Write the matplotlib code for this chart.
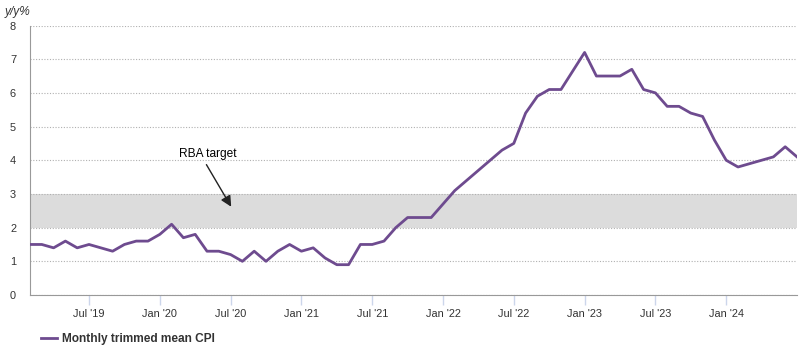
import matplotlib.pyplot as plt

plt.rcParams["font.family"] = ["Liberation Sans", "DejaVu Sans"]

# ====================================
# monthly trimmed mean CPI, Feb 2019 .. Jul 2024 (y/y %)

cpi = [1.5, 1.5, 1.4, 1.6, 1.4, 1.5, 1.4, 1.3, 1.5, 1.6, 1.6,
       1.8, 2.1, 1.7, 1.8, 1.3, 1.3, 1.2, 1.0, 1.3, 1.0, 1.3, 1.5,
       1.3, 1.4, 1.1, 0.9, 0.9, 1.5, 1.5, 1.6, 2.0, 2.3, 2.3, 2.3,
       2.7, 3.1, 3.4, 3.7, 4.0, 4.3, 4.5, 5.4, 5.9, 6.1, 6.1, 6.65,
       7.2, 6.5, 6.5, 6.5, 6.7, 6.1, 6.0, 5.6, 5.6, 5.4, 5.3,
       4.6, 4.0, 3.8, 3.9, 4.0, 4.1, 4.4, 4.1]

tick_pos = [5, 11, 17, 23, 29, 35, 41, 47, 53, 59]
tick_labels = ["Jul '19", "Jan '20", "Jul '20", "Jan '21", "Jul '21",
               "Jan '22", "Jul '22", "Jan '23", "Jul '23", "Jan '24"]

target_low = 2
target_high = 3

# ====================================

fig = plt.figure(figsize=(8.04, 3.51), dpi=100)
ax = fig.add_axes([30/804, 56/351, 767/804, 269.5/351])

months = list(range(len(cpi)))

ax.axhspan(target_low, target_high, color="#dcdcdc", zorder=0, lw=0)

ax.plot(months, cpi, color="#6e4b8f", lw=2, zorder=3,
        label="Monthly trimmed mean CPI")

ax.set_xlim(0, len(cpi) - 1)
ax.set_ylim(0, 8)

ax.set_yticks(range(0, 9))
ax.grid(axis="y", color="#b0b0b0", linestyle=(0, (1, 1.5)), lw=0.8)
ax.set_axisbelow(True)

ax.set_xticks(tick_pos)
ax.set_xticklabels(tick_labels)

ax.tick_params(axis="x", length=7, width=1, color="#ccd6eb",
               labelsize=7.9, labelcolor="#333333", pad=3)
ax.tick_params(axis="y", length=0, labelsize=7.9,
               labelcolor="#333333", pad=10)

for s in ["top", "right"]:
    ax.spines[s].set_visible(False)
ax.spines["left"].set_color("#999999")
ax.spines["bottom"].set_color("#999999")

# annotation
ax.text(15.05, 4.2, "RBA target", ha="center", va="center",
        fontsize=8.6, color="black")
ax.annotate("", xy=(17.05, 2.62), xytext=(14.95, 3.87),
            arrowprops=dict(arrowstyle="-|>", color="#222222", lw=1,
                            mutation_scale=16, shrinkA=0, shrinkB=0))

fig.text(5/804, 1 - 12/351, "y/y%", fontsize=8.6, style="italic",
         color="#333333", va="center")

leg = fig.legend(loc="center left", bbox_to_anchor=(30/804, 1 - 339/351),
                 frameon=False, handlelength=1.35, handletextpad=0.45,
                 prop={"size": 8.6, "weight": "bold"})
for t in leg.get_texts():
    t.set_color("#333333")

plt.savefig("out.png", dpi=100)
